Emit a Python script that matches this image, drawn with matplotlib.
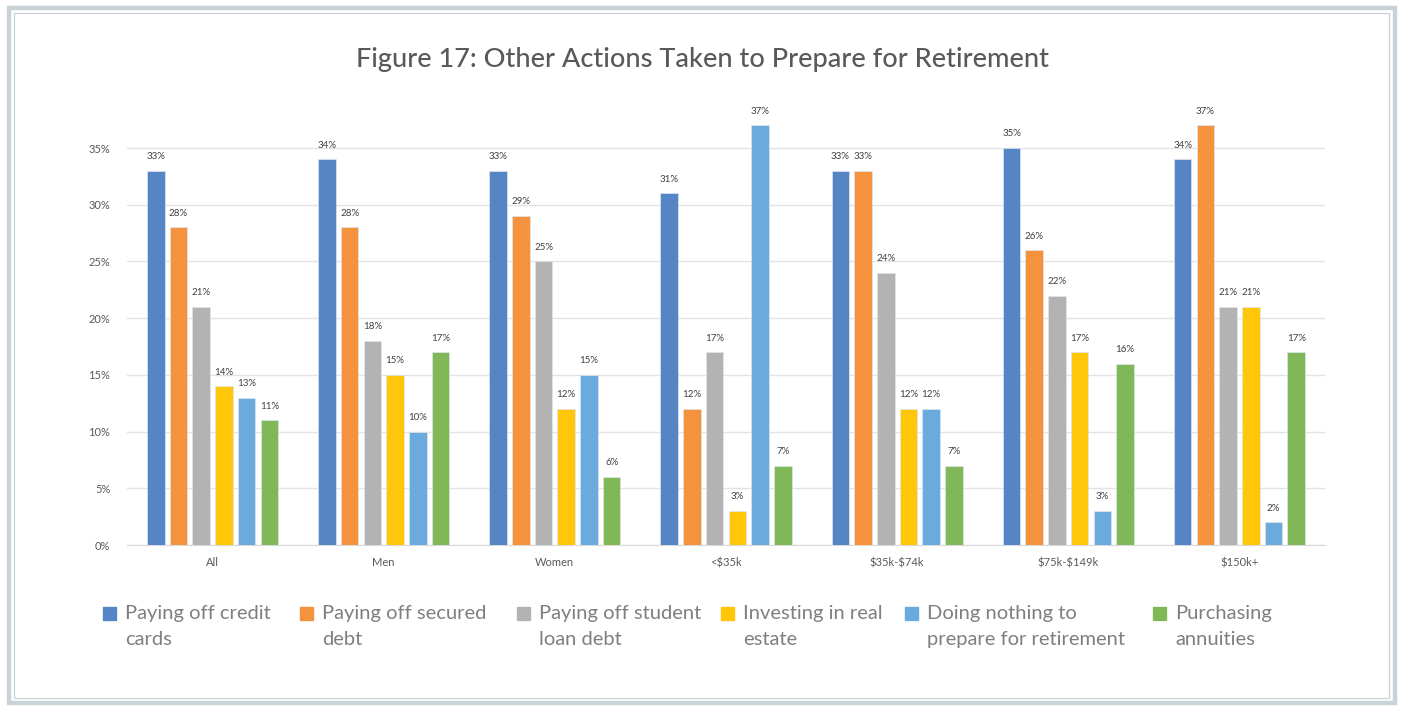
import numpy as np
import matplotlib
matplotlib.use("Agg")
import matplotlib.pyplot as plt
from matplotlib.patches import Rectangle

groups = ["All", "Men", "Women", "<$35k", "$35k-$74k", "$75k-$149k", "$150k+"]
series = ["Paying off credit\ncards", "Paying off secured\ndebt", "Paying off student\nloan debt",
          "Investing in real\nestate", "Doing nothing to\nprepare for retirement", "Purchasing\nannuities"]
credit_cards = [33, 34, 33, 31, 33, 35, 34]
secured_debt = [28, 28, 29, 12, 33, 26, 37]
student_loan = [21, 18, 25, 17, 24, 22, 21]
real_estate = [14, 15, 12, 3, 12, 17, 21]
doing_nothing = [13, 10, 15, 37, 12, 3, 2]
annuities = [11, 17, 6, 7, 7, 16, 17]
values = [credit_cards, secured_debt, student_loan, real_estate, doing_nothing, annuities]
colors = ["#5585C5", "#F4923E", "#B3B3B3", "#FFC60A", "#6BAADD", "#80B857"]

W, H = 1403, 709
plt.rcParams['font.family'] = ['Lato', 'DejaVu Sans']
plt.rcParams['text.parse_math'] = False
fig = plt.figure(figsize=(W / 100, H / 100), dpi=100)

# frame
fig.patches.append(Rectangle((9 / W, 1 - 702.5 / H), (1394.5 - 9) / W, (702.5 - 8) / H,
                             transform=fig.transFigure, fill=False, ec="#C9D3D7", lw=3.2))
fig.patches.append(Rectangle((13.5 / W, 1 - 697.5 / H), (1388.5 - 13.5) / W, (697.5 - 12.5) / H,
                             transform=fig.transFigure, fill=False, ec="#C9D3D7", lw=0.9))

ax = fig.add_axes([127 / W, 1 - 545 / H, (1325 - 127) / W, 436.6 / H])
x = np.arange(len(groups))
pitch = 0.1327
width = 0.102
for i, (vals, c) in enumerate(zip(values, colors)):
    pos = x + (i - 2.5) * pitch
    bars = ax.bar(pos, vals, width, color=c, edgecolor="#DDE6F0", linewidth=0.5, zorder=3)
    for b, v in zip(bars, vals):
        ax.text(b.get_x() + b.get_width() / 2, v + 0.85, f"{v}%", ha="center", va="bottom",
                fontsize=7, color="#404040")

ax.set_xlim(-0.5, len(groups) - 0.5)
ax.set_ylim(0, 38.5)
ax.set_yticks(range(0, 36, 5))
ax.set_yticklabels([f"{t}%" for t in range(0, 36, 5)])
ax.set_xticks(x)
ax.set_xticklabels(groups)
ax.grid(axis="y", color="#E3E3E3", lw=1, zorder=0)
ax.tick_params(length=0, labelsize=8, colors="#595959")
ax.tick_params(axis="x", pad=9)
ax.tick_params(axis="y", pad=12)
for s in ["top", "right", "left"]:
    ax.spines[s].set_visible(False)
ax.spines["bottom"].set_color("#D9D9D9")

fig.text(703 / W, 1 - 60 / H, "Figure 17: Other Actions Taken to Prepare for Retirement",
         ha="center", va="center", fontsize=19.5, color="#595959", fontweight="medium")

# legend
marker_x = [103, 300, 517, 721, 905, 1153]
for mx, lab, c in zip(marker_x, series, colors):
    fig.patches.append(Rectangle((mx / W, 1 - 620 / H), 13 / W, 13 / H,
                                 transform=fig.transFigure, color=c))
    fig.text((mx + 22) / W, 1 - 605 / H, lab, ha="left", va="top", fontsize=14.5,
             color="#7F7F7F", linespacing=1.65)

fig.savefig("out.png", dpi=100)
